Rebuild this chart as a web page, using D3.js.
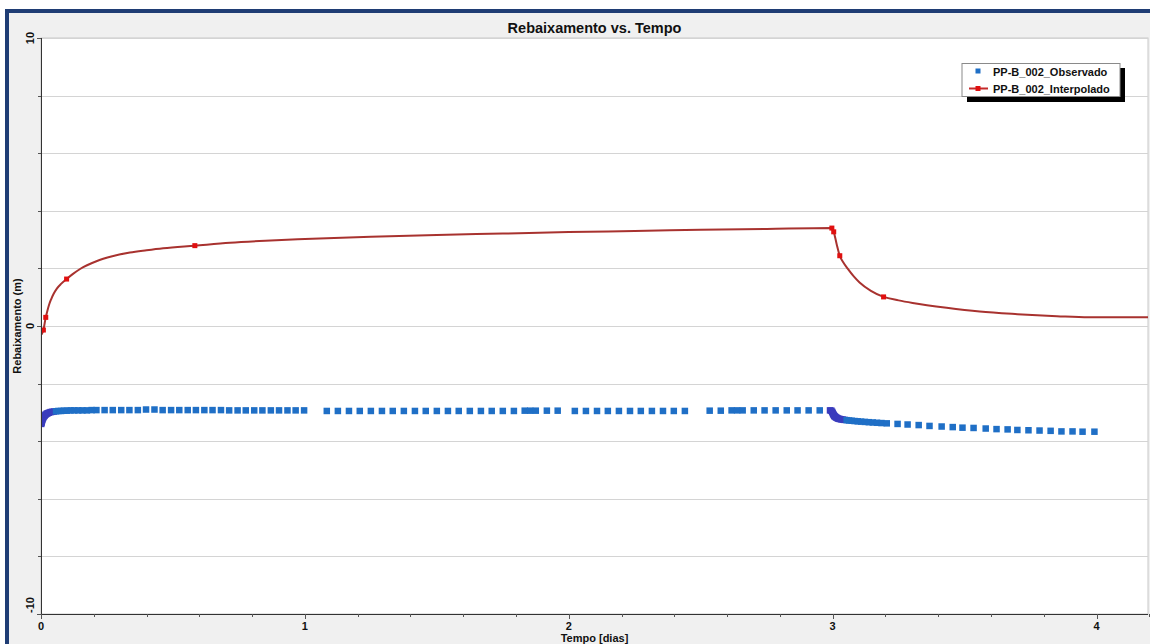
<!DOCTYPE html>
<html>
<head>
<meta charset="utf-8">
<script src="https://cdn.jsdelivr.net/npm/d3@7"></script>
<style>
  html, body { margin: 0; padding: 0; background: #ffffff; }
  svg { display: block; }
  text { font-family: "Liberation Sans", Arial, sans-serif; font-weight: bold; fill: #111; }
</style>
</head>
<body>
<svg id="chart" width="1150" height="644"></svg>
<script>
// Axis ticks
const xMajorTicks = [0, 1, 2, 3, 4];
const yLabelTicks = [10, 0, -10];
const yGridTicks = [10, 8, 6, 4, 2, 0, -2, -4, -6, -8, -10];

// Series names
const seriesNames = ["PP-B_002_Observado", "PP-B_002_Interpolado"];

// Observed drawdown (days, m)
const obsTime = [
  0.001, 0.002, 0.003, 0.004, 0.005, 0.007, 0.009, 0.011, 0.014, 0.017,
  0.021, 0.025, 0.030, 0.036, 0.042, 0.049, 0.057, 0.066, 0.076, 0.087,
  0.099, 0.112, 0.126, 0.141, 0.157, 0.174, 0.192,
  0.210, 0.241, 0.272, 0.304, 0.335, 0.367, 0.398, 0.430, 0.461, 0.493,
  0.524, 0.556, 0.587, 0.619, 0.650, 0.682, 0.713, 0.745, 0.776, 0.808,
  0.839, 0.871, 0.902, 0.934, 0.965, 0.997,
  1.083, 1.125, 1.167, 1.208, 1.250, 1.292, 1.333, 1.375, 1.417, 1.458,
  1.500, 1.542, 1.583, 1.625, 1.667, 1.708, 1.750, 1.792, 1.833, 1.854,
  1.875, 1.917, 1.958,
  2.023, 2.065, 2.107, 2.148, 2.190, 2.232, 2.273, 2.315, 2.357, 2.398, 2.440,
  2.534, 2.576, 2.617, 2.638, 2.659, 2.701, 2.742, 2.784, 2.826, 2.867,
  2.909, 2.951, 2.990,
  2.995, 2.998, 3.000, 3.002, 3.004, 3.006, 3.008, 3.011, 3.014, 3.018,
  3.022, 3.027, 3.032, 3.038, 3.045, 3.053, 3.062, 3.072, 3.083, 3.095,
  3.108, 3.122, 3.137, 3.152, 3.168, 3.185,
  3.205, 3.246, 3.284, 3.326, 3.367, 3.413, 3.455, 3.492, 3.534, 3.580,
  3.621, 3.663, 3.700, 3.742, 3.784, 3.826, 3.867, 3.909, 3.947, 3.992
];
const obsValue = [
  -3.40, -3.36, -3.32, -3.28, -3.25, -3.21, -3.17, -3.14, -3.11, -3.08,
  -3.05, -3.03, -3.01, -2.99, -2.98, -2.97, -2.96, -2.95, -2.95, -2.94,
  -2.94, -2.93, -2.93, -2.93, -2.93, -2.93, -2.92,
  -2.92, -2.92, -2.92, -2.92, -2.92, -2.92, -2.90, -2.90, -2.92, -2.92,
  -2.92, -2.92, -2.92, -2.92, -2.92, -2.92, -2.93, -2.93, -2.93, -2.93,
  -2.93, -2.93, -2.93, -2.93, -2.93, -2.93,
  -2.95, -2.95, -2.95, -2.95, -2.95, -2.95, -2.95, -2.95, -2.95, -2.95,
  -2.95, -2.95, -2.95, -2.95, -2.95, -2.95, -2.95, -2.95, -2.94, -2.94,
  -2.94, -2.94, -2.94,
  -2.95, -2.95, -2.95, -2.95, -2.95, -2.95, -2.95, -2.95, -2.95, -2.95, -2.95,
  -2.94, -2.94, -2.93, -2.93, -2.93, -2.93, -2.93, -2.93, -2.93, -2.93,
  -2.93, -2.93, -2.93,
  -2.94, -2.98, -3.02, -3.06, -3.09, -3.12, -3.14, -3.16, -3.18, -3.20,
  -3.22, -3.23, -3.24, -3.25, -3.26, -3.27, -3.28, -3.29, -3.30, -3.31,
  -3.32, -3.33, -3.34, -3.35, -3.36, -3.37,
  -3.38, -3.40, -3.42, -3.44, -3.47, -3.49, -3.51, -3.53, -3.54, -3.56,
  -3.58, -3.59, -3.61, -3.62, -3.63, -3.64, -3.66, -3.66, -3.67, -3.67
];

// Interpolated drawdown curve (days, m)
const interpTime = [
  0.002, 0.009, 0.018, 0.024, 0.030, 0.038, 0.048, 0.060, 0.077, 0.097,
  0.120, 0.148, 0.210, 0.270, 0.337, 0.400, 0.463, 0.583, 0.716, 0.850,
  1.000, 1.250, 1.500, 1.750, 2.000, 2.250, 2.500, 2.750, 2.997, 3.004,
  3.015, 3.027, 3.040, 3.057, 3.080, 3.102, 3.145, 3.193, 3.250, 3.303,
  3.432, 3.557, 3.700, 3.850, 3.970, 4.195
];
const interpValue = [
  -0.30, -0.14, 0.30, 0.52, 0.72, 0.92, 1.12, 1.30, 1.47, 1.63,
  1.80, 1.98, 2.25, 2.42, 2.55, 2.63, 2.70, 2.79, 2.89, 2.96,
  3.02, 3.10, 3.16, 3.21, 3.26, 3.30, 3.34, 3.37, 3.40, 3.27,
  2.85, 2.44, 2.21, 1.99, 1.72, 1.51, 1.22, 1.01, 0.89, 0.80,
  0.63, 0.50, 0.41, 0.34, 0.30, 0.30
];
// Points of the curve that carry a marker
const interpMarked = [1, 2, 9, 17, 28, 29, 31, 37];

const W = 1150, H = 644;
const plot = { left: 41, right: 1148, top: 38, bottom: 614 };

const svg = d3.select("#chart");

// Window frame
svg.append("rect").attr("x", 0).attr("y", 0).attr("width", W).attr("height", H).attr("fill", "#ffffff");
svg.append("rect").attr("x", 5).attr("y", 9).attr("width", W - 5).attr("height", H - 9).attr("fill", "#f0f0f0");
svg.append("rect").attr("x", 5).attr("y", 9).attr("width", W - 5).attr("height", 4).attr("fill", "#1f3d74");
svg.append("rect").attr("x", 5).attr("y", 9).attr("width", 4).attr("height", H - 9).attr("fill", "#1f3d74");

const x = d3.scaleLinear().domain([0, 4.195]).range([plot.left, plot.right]);
const y = d3.scaleLinear().domain([-10, 10]).range([plot.bottom, plot.top]);

// Plot background
svg.append("rect")
  .attr("x", plot.left).attr("y", plot.top)
  .attr("width", plot.right - plot.left).attr("height", plot.bottom - plot.top)
  .attr("fill", "#ffffff").attr("stroke", "#c8c8c8").attr("stroke-width", 1);

// Horizontal grid
svg.append("g").selectAll("line").data(yGridTicks).join("line")
  .attr("x1", plot.left).attr("x2", plot.right)
  .attr("y1", d => Math.round(y(d)) + 0.5).attr("y2", d => Math.round(y(d)) + 0.5)
  .attr("stroke", "#d4d4d4").attr("stroke-width", 1);

// Clip for series
svg.append("defs").append("clipPath").attr("id", "plotClip")
  .append("rect").attr("x", plot.left + 1).attr("y", plot.top)
  .attr("width", plot.right - plot.left - 1).attr("height", plot.bottom - plot.top);

const series = svg.append("g").attr("clip-path", "url(#plotClip)");

// Observed squares; closely packed readings pile up into a darker violet band
const obs = obsTime.map((t, i) => ({ t, v: obsValue[i] }));
obs.forEach((d, i) => {
  const prev = i > 0 ? x(d.t) - x(obs[i - 1].t) : Infinity;
  const next = i < obs.length - 1 ? x(obs[i + 1].t) - x(d.t) : Infinity;
  d.packed = Math.min(prev, next) < 2;
});
const sq = 6.5;
series.append("g").selectAll("rect").data(obs).join("rect")
  .attr("x", d => x(d.t) - sq / 2).attr("y", d => y(d.v) - sq / 2)
  .attr("width", sq).attr("height", sq)
  .attr("fill", d => d.packed ? "#3a3cbd" : "#1f6fc6");

// Interpolated curve
const interp = interpTime.map((t, i) => ({ t, v: interpValue[i] }));
const line = d3.line().x(d => x(d.t)).y(d => y(d.v)).curve(d3.curveMonotoneX);
series.append("path").datum(interp)
  .attr("d", line).attr("fill", "none")
  .attr("stroke", "#a8322f").attr("stroke-width", 2);
series.append("g").selectAll("rect").data(interpMarked.map(i => interp[i])).join("rect")
  .attr("x", d => x(d.t) - 2.5).attr("y", d => y(d.v) - 2.5)
  .attr("width", 5).attr("height", 5).attr("fill", "#e01010");

// X axis
const xAxis = svg.append("g");
xAxis.append("line")
  .attr("x1", plot.left).attr("x2", plot.right)
  .attr("y1", plot.bottom + 0.5).attr("y2", plot.bottom + 0.5)
  .attr("stroke", "#333").attr("stroke-width", 1);
const xMinor = d3.range(0, 4.2 + 1e-9, 0.2).map(v => +v.toFixed(1));
xAxis.selectAll("line.minor").data(xMinor).join("line").attr("class", "minor")
  .attr("x1", d => Math.round(x(d)) + 0.5).attr("x2", d => Math.round(x(d)) + 0.5)
  .attr("y1", plot.bottom).attr("y2", d => plot.bottom + (xMajorTicks.includes(d) ? 5 : 3))
  .attr("stroke", "#555");
xAxis.selectAll("text").data(xMajorTicks).join("text")
  .attr("x", d => x(d)).attr("y", 630)
  .attr("text-anchor", "middle").attr("font-size", 11)
  .text(d => d);
svg.append("text")
  .attr("x", (plot.left + plot.right) / 2).attr("y", 642)
  .attr("text-anchor", "middle").attr("font-size", 11)
  .text("Tempo [dias]");

// Y axis
const yAxis = svg.append("g");
yAxis.append("line")
  .attr("x1", plot.left + 0.5).attr("x2", plot.left + 0.5)
  .attr("y1", plot.top).attr("y2", plot.bottom)
  .attr("stroke", "#333").attr("stroke-width", 1);
yAxis.selectAll("line.tick").data(yGridTicks).join("line").attr("class", "tick")
  .attr("x1", d => plot.left - (yLabelTicks.includes(d) ? 4 : 3)).attr("x2", plot.left)
  .attr("y1", d => Math.round(y(d)) + 0.5).attr("y2", d => Math.round(y(d)) + 0.5)
  .attr("stroke", "#555");
yAxis.selectAll("text").data(yLabelTicks).join("text")
  .attr("transform", d => {
    const py = d === -10 ? y(d) - 1 : y(d);
    return `translate(34,${py}) rotate(-90)`;
  })
  .attr("text-anchor", d => d === -10 ? "start" : "middle")
  .attr("font-size", 11)
  .text(d => d);
svg.append("text")
  .attr("transform", `translate(21,${y(0)}) rotate(-90)`)
  .attr("text-anchor", "middle").attr("font-size", 11)
  .text("Rebaixamento (m)");

// Title
svg.append("text")
  .attr("x", (plot.left + plot.right) / 2).attr("y", 33)
  .attr("text-anchor", "middle").attr("font-size", 14.5)
  .text("Rebaixamento vs. Tempo");

// Legend
const lg = svg.append("g");
lg.append("rect").attr("x", 967).attr("y", 68).attr("width", 158).attr("height", 34).attr("fill", "#000");
lg.append("rect").attr("x", 962).attr("y", 63.5).attr("width", 158).attr("height", 33)
  .attr("fill", "#ffffff").attr("stroke", "#8a8a8a").attr("stroke-width", 1);
lg.append("rect").attr("x", 975.5).attr("y", 68.5).attr("width", 5).attr("height", 5).attr("fill", "#1f6fc6");
lg.append("line").attr("x1", 969).attr("x2", 988).attr("y1", 88.5).attr("y2", 88.5)
  .attr("stroke", "#c42a2a").attr("stroke-width", 2);
lg.append("rect").attr("x", 975.5).attr("y", 86).attr("width", 5).attr("height", 5).attr("fill", "#e01010");
lg.selectAll("text").data(seriesNames).join("text")
  .attr("x", 993).attr("y", (d, i) => 75.5 + i * 17)
  .attr("font-size", 11)
  .text(d => d);
</script>
</body>
</html>
